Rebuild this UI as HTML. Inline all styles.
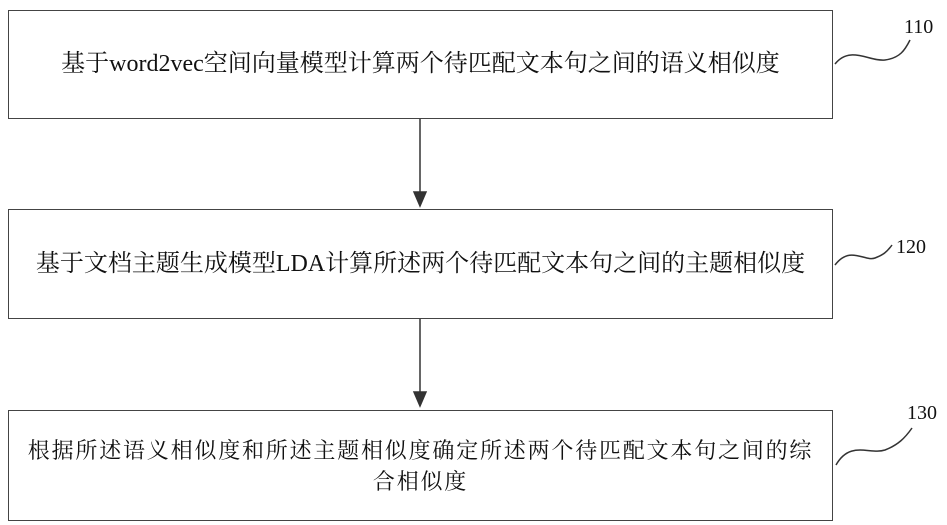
<!DOCTYPE html>
<html><head><meta charset="utf-8"><style>
body{margin:0;background:#fff;width:947px;height:525px;position:relative;overflow:hidden;font-family:"Liberation Serif","Noto Serif CJK SC",serif;color:#111}
.b{position:absolute;left:8px;width:825px;border:1.5px solid #444;box-sizing:border-box;display:flex;align-items:center;justify-content:center;text-align:center;font-size:24px;line-height:31px}
.l{position:absolute;font-size:20px}
</style></head><body>
<div class="b" style="top:10px;height:109px">基于word2vec空间向量模型计算两个待匹配文本句之间的语义相似度</div>
<div class="b" style="top:209px;height:110px">基于文档主题生成模型LDA计算所述两个待匹配文本句之间的主题相似度</div>
<div class="b" style="top:410px;height:111px;white-space:nowrap;font-size:22px;letter-spacing:1.8px">根据所述语义相似度和所述主题相似度确定所述两个待匹配文本句之间的综<br>合相似度</div>
<div class="l" style="left:904px;top:16px">110</div>
<div class="l" style="left:896px;top:236px">120</div>
<div class="l" style="left:907px;top:402px">130</div>
<svg width="947" height="525" style="position:absolute;left:0;top:0" fill="none" stroke="#333" stroke-width="1.5">
<path d="M420 119 V195"/><polygon points="414,192 426,192 420,206" fill="#333"/>
<path d="M420 319 V395"/><polygon points="414,392 426,392 420,406" fill="#333"/>
<path d="M835 64 C850 45,870 62,885 60 C900 58,905 50,910 40"/>
<path d="M835 265 C850 245,865 262,875 258 C883 255,887 252,892 245"/>
<path d="M836 465 C850 440,870 455,885 450 C898 445,905 438,912 428"/>
</svg>
</body></html>
